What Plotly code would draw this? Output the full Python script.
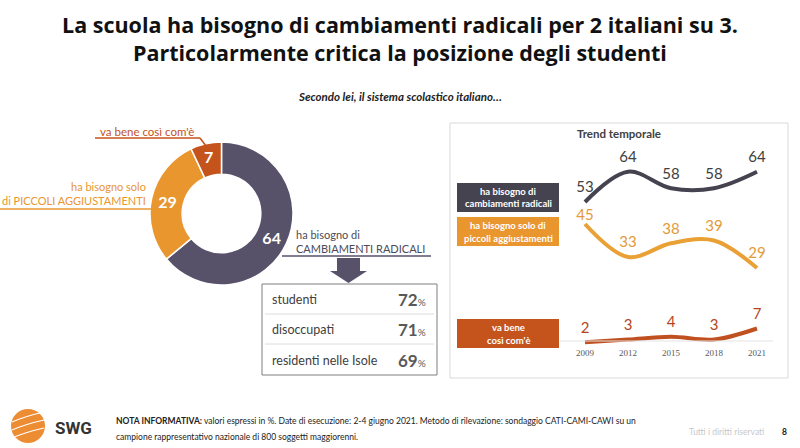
import plotly.graph_objects as go

# ---------------- data ----------------
pie_labels = ["ha bisogno di CAMBIAMENTI RADICALI", "ha bisogno solo di PICCOLI AGGIUSTAMENTI", "va bene così com'è"]
pie_values = [64, 29, 7]

years = [2009, 2012, 2015, 2018, 2021]
radicali = [53, 64, 58, 58, 64]
piccoli = [45, 33, 38, 39, 29]
va_bene = [2, 3, 4, 3, 7]

table_groups = ["studenti", "disoccupati", "residenti nelle Isole"]
table_values = [72, 71, 69]

# ---------------- style ----------------
W, H = 800, 448
DARK = "#57516a"
ORANGE = "#e9962f"
RED = "#c4531c"
LDARK = "#45434f"
LORANGE = "#e9a035"
LRED = "#c0501f"
FONT = "Lato"


def X(px):
    return px / W


def Y(py):
    return 1 - py / H


fig = go.Figure()

# donut
fig.add_trace(go.Pie(
    labels=pie_labels, values=pie_values, sort=False, direction="clockwise", rotation=0,
    hole=0.55, domain=dict(x=[X(150), X(293)], y=[Y(285), Y(142)]),
    marker=dict(colors=[DARK, ORANGE, RED], line=dict(color="white", width=1.5)),
    textinfo="value", textposition="inside", insidetextorientation="horizontal",
    textfont=dict(family=FONT, size=16, color="white", weight="bold"),
    showlegend=False, hoverinfo="label+value",
))

# trend lines (invisible marker size controls the label offset above each point)
series = [
    (radicali, LDARK, "#404040", 8),
    (piccoli, LORANGE, "#e39a39", [0, 8, 8, 8, 8]),
    (va_bene, LRED, "#b5441c", 8),
]
for vals, lc, tc, msize in series:
    fig.add_trace(go.Scatter(
        x=years, y=vals, mode="lines+markers+text",
        line=dict(color=lc, width=4, shape="spline", smoothing=1.0),
        marker=dict(size=msize, opacity=0),
        text=[str(v) for v in vals], textposition="top center",
        textfont=dict(family=FONT, size=15, color=tc),
        showlegend=False, xaxis="x", yaxis="y", cliponaxis=False,
    ))

fig.update_layout(
    width=W, height=H, margin=dict(l=0, r=0, t=0, b=0),
    paper_bgcolor="white", plot_bgcolor="rgba(0,0,0,0)",
    font=dict(family=FONT, color="#404040"),
    xaxis=dict(domain=[X(560), X(775)], range=[2007.256, 2022.256],
               tickvals=years, ticktext=[str(y) for y in years],
               tickfont=dict(family="Liberation Serif", size=9, color="#595959"),
               showgrid=False, zeroline=False, showline=False, ticks=""),
    yaxis=dict(domain=[Y(346), Y(160)], range=[0.64, 68.27], visible=False,
               showgrid=False, zeroline=False),
)

shapes = []
ann = []


def text(x, y, s, size=10, color="#404040", xanchor="center", bold=False, italic=False, family=FONT):
    if bold:
        s = "<b>" + s + "</b>"
    if italic:
        s = "<i>" + s + "</i>"
    ann.append(dict(x=X(x), y=Y(y), xref="paper", yref="paper", text=s, showarrow=False,
                    xanchor=xanchor, yanchor="middle",
                    font=dict(family=family, size=size, color=color)))


def line(x0, y0, x1, y1, color, width=1.5):
    shapes.append(dict(type="line", xref="paper", yref="paper", x0=X(x0), y0=Y(y0), x1=X(x1), y1=Y(y1),
                       line=dict(color=color, width=width)))


def rect(x0, y0, x1, y1, fill=None, lc=None, lw=1):
    shapes.append(dict(type="rect", xref="paper", yref="paper", x0=X(x0), y0=Y(y0), x1=X(x1), y1=Y(y1),
                       fillcolor=fill if fill else "rgba(0,0,0,0)",
                       line=dict(color=lc if lc else "rgba(0,0,0,0)", width=lw if lc else 0),
                       layer="below"))


def path(pts, fill, lc=None, lw=0):
    d = "M " + " L ".join(f"{X(a):.5f},{Y(b):.5f}" for a, b in pts) + " Z"
    shapes.append(dict(type="path", xref="paper", yref="paper", path=d, fillcolor=fill,
                       line=dict(color=lc if lc else fill, width=lw)))


# titles
text(400, 38, "La scuola ha bisogno di cambiamenti radicali per 2 italiani su 3.<br>"
              "Particolarmente critica la posizione degli studenti", size=21.5, color="#111111",
     bold=True, family="Open Sans")
text(400, 96, "Secondo lei, il sistema scolastico italiano…", size=11.5, color="#222222", bold=True, italic=True)

# donut leader labels
text(147, 131, "va bene così com'è", size=11.5, color=RED)
line(95, 138, 200, 138, RED)
line(200, 138, 206, 146, RED)
text(148, 186, "ha bisogno solo", size=11, color=ORANGE, xanchor="right")
text(148, 200, "di PICCOLI AGGIUSTAMENTI", size=11, color=ORANGE, xanchor="right")
line(0, 209, 152, 209, ORANGE)
text(294, 234, "ha bisogno di", size=11, color="#4d4b57", xanchor="left")
text(294, 248, "CAMBIAMENTI RADICALI", size=11, color="#4d4b57", xanchor="left")
line(282, 256, 431, 256, DARK)

# arrow
path([(337, 258), (360, 258), (360, 271), (367, 271), (348.5, 283), (330, 271), (337, 271)], DARK)

# table
rect(262, 284, 437, 375, lc="#7f7f7f", lw=1)
line(265, 314, 434, 314, "#dcdcdc", 1)
line(265, 344, 434, 344, "#dcdcdc", 1)
rows_y = [299, 329, 360]
for g, v, ry in zip(table_groups, table_values, rows_y):
    text(270, ry, g, size=12.5, color="#404040", xanchor="left")
    text(428, ry, f"<b>{v}</b><span style='font-size:10px'>%</span>", size=17, color="#595959", xanchor="right")

# right panel
rect(450, 123, 788, 378, lc="#d9d9d9", lw=1)
text(619, 134, "Trend temporale", size=11.5, color="#404040", bold=True)
line(560, 341, 773, 341, "#e3e3e3", 1)
legend_boxes = [
    (183, 212, LDARK, ["ha bisogno di", "cambiamenti radicali"]),
    (217, 246, ORANGE, ["ha bisogno solo di", "piccoli aggiustamenti"]),
    (319, 348, RED, ["va bene", "così com'è"]),
]
for y0, y1, col, lines_ in legend_boxes:
    rect(457, y0, 559, y1, fill=col)
    ym = (y0 + y1) / 2
    text(508, ym - 6.5, lines_[0], size=9.5, color="white", bold=True)
    text(508, ym + 6.5, lines_[1], size=9.5, color="white", bold=True)

# footer
shapes.append(dict(type="circle", xref="paper", yref="paper", x0=X(11), y0=Y(443), x1=X(45), y1=Y(409),
                   fillcolor="#ec8d33", line=dict(width=0)))
for yy in [418, 426, 434]:
    shapes.append(dict(type="path", xref="paper", yref="paper",
                       path=f"M {X(12):.5f},{Y(yy+4):.5f} Q {X(26):.5f},{Y(yy-2):.5f} {X(44):.5f},{Y(yy-6):.5f}",
                       line=dict(color="white", width=1.2)))
text(53, 428, "SWG", size=17, color="#333333", xanchor="left", bold=True, family="Roboto")
text(114, 421, "<b>NOTA INFORMATIVA:</b> valori espressi in %. Date di esecuzione: 2-4 giugno 2021. Metodo di rilevazione: sondaggio CATI-CAMI-CAWI su un",
     size=8.5, color="#222222", xanchor="left")
text(114, 437, "campione rappresentativo nazionale di 800 soggetti maggiorenni.", size=8.5, color="#222222", xanchor="left")
text(766, 432, "Tutti i diritti riservati", size=8.5, color="#c8c8c8", xanchor="right")
text(784, 432, "8", size=8.5, color="#222222", bold=True)

fig.update_layout(shapes=shapes, annotations=ann)
fig.write_html("out.html", config={"displayModeBar": False},
               post_script="document.body.style.margin='0';document.body.style.padding='0';")
